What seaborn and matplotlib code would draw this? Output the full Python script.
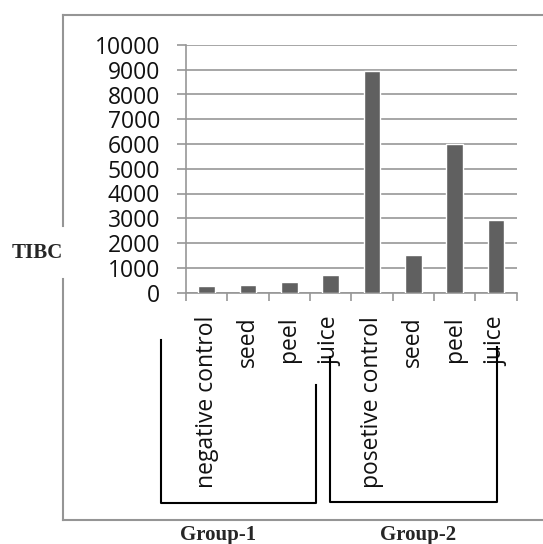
import numpy as np
import pandas as pd
import seaborn as sns
import matplotlib.pyplot as plt
from matplotlib.lines import Line2D

# ---------- data ----------
groups = ["Group-1", "Group-1", "Group-1", "Group-1",
          "Group-2", "Group-2", "Group-2", "Group-2"]
samples = ["negative control", "seed", "peel", "juice",
           "posetive control", "seed", "peel", "juice"]
tibc = [265, 320, 410, 720, 8950, 1500, 5990, 2930]

df = pd.DataFrame({"group": groups, "sample": samples, "TIBC": tibc})
df["key"] = df["group"] + " " + df["sample"]   # unique category per bar

# ---------- style ----------
sns.set_style("white")
plt.rcParams["font.family"] = ["Open Sans", "DejaVu Sans"]
W, H = 543, 544
fig = plt.figure(figsize=(W / 100, H / 100), dpi=100)

def fx(x):
    return x / W

def fy(y):
    return 1 - y / H

grey = "#979797"
ax = fig.add_axes([fx(186), fy(292.5), fx(516.7) - fx(186), fy(45) - fy(292.5)])

sns.barplot(data=df, x="key", y="TIBC", color="#606060", saturation=1,
            width=0.4, ax=ax, zorder=3)

ax.set_ylim(0, 10000)
ax.set_xlim(-0.5, len(samples) - 0.5)
ax.set_yticks(np.arange(0, 10001, 1000))
ax.yaxis.grid(True, color=grey, linewidth=1.2)
ax.set_axisbelow(True)
ax.tick_params(axis="y", length=6.5, width=1.2, color=grey, pad=12,
               labelsize=16.5, labelcolor="#111111", left=True)

ax.set_xticks(range(len(samples)))
ax.set_xticklabels(samples, rotation=90, va="top", ha="center")
ax.set_xticks(np.arange(-0.5, len(samples)), minor=True)
ax.tick_params(axis="x", which="major", length=0, pad=17, labelsize=16.5,
               labelcolor="#111111")
ax.tick_params(axis="x", which="minor", length=5.8, width=1.2, color=grey,
               bottom=True)
ax.set_xlabel("")
ax.set_ylabel("")

for s in ["top", "right"]:
    ax.spines[s].set_visible(False)
for s in ["left", "bottom"]:
    ax.spines[s].set_color(grey)
    ax.spines[s].set_linewidth(1.2)

# ---------- outer frame (broken around the TIBC label) ----------
def seg(xs, ys, color, lw):
    fig.add_artist(Line2D([fx(v) for v in xs], [fy(v) for v in ys],
                          transform=fig.transFigure, color=color,
                          linewidth=lw, solid_capstyle="projecting"))

frame_c = "#959595"
seg([63, 545], [15, 15], frame_c, 1.5)
seg([63, 545], [520, 520], frame_c, 1.5)
seg([63, 63], [15, 226], frame_c, 1.5)
seg([63, 63], [279, 520], frame_c, 1.5)

# ---------- group brackets ----------
seg([160.5, 160.5, 316, 316], [340, 502.5, 502.5, 385], "black", 1.5)
seg([330, 330, 496.5, 496.5], [357, 502, 502, 347], "black", 1.5)

serif = ["Liberation Serif", "DejaVu Serif"]
fig.text(fx(37), fy(253), "TIBC", ha="center", va="center",
         fontsize=15, fontweight="bold", family=serif)
fig.text(fx(218), fy(535), "Group-1", ha="center", va="center",
         fontsize=15, fontweight="bold", family=serif)
fig.text(fx(418), fy(535), "Group-2", ha="center", va="center",
         fontsize=15, fontweight="bold", family=serif)

fig.savefig("out.png", dpi=100)
